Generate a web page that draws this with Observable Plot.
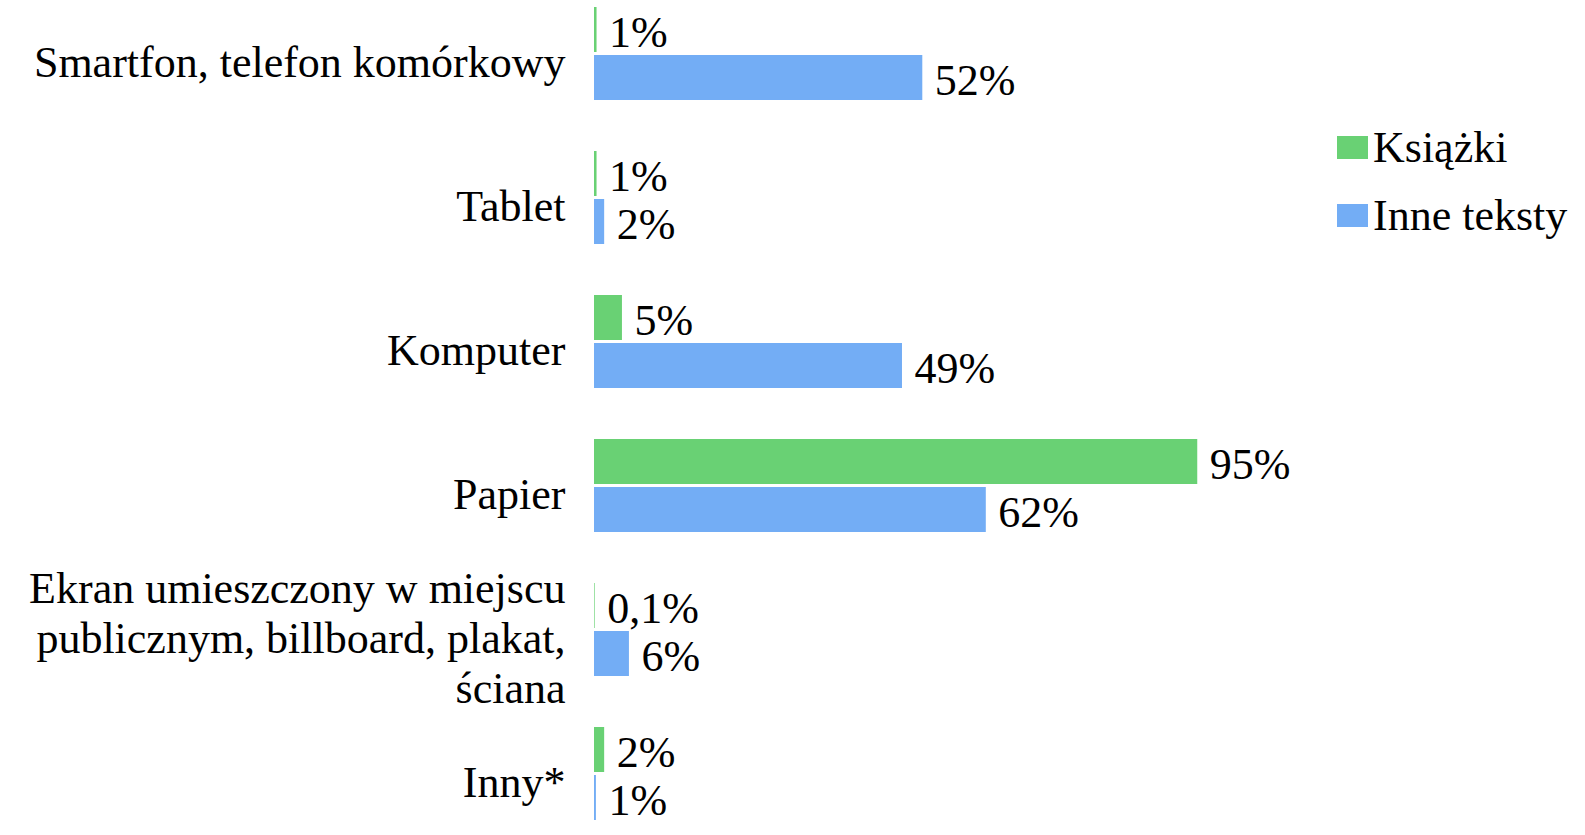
<!DOCTYPE html>
<html>
<head>
<meta charset="utf-8">
<script src="https://cdn.jsdelivr.net/npm/d3@7"></script>
<script src="https://cdn.jsdelivr.net/npm/@observablehq/plot@0.6"></script>
<style>
  html, body { margin: 0; padding: 0; background: #fff; }
  #wrap { position: relative; width: 1585px; height: 835px; overflow: hidden; }
  #legend { position: absolute; left: 1337px; top: 127px; font-family: "Liberation Serif", serif; font-size: 44px; color: #000; }
  .item { display: flex; align-items: center; height: 40px; margin-bottom: 28px; }
  .sw { width: 31px; height: 23px; margin-right: 5px; flex: none; }
</style>
</head>
<body>
<div id="wrap"><div id="legend"></div></div>
<script>
const categories = ["Smartfon", "Tablet", "Komputer", "Papier", "Ekran", "Inny"];
const categoryLabels = [
  "Smartfon, telefon komórkowy",
  "Tablet",
  "Komputer",
  "Papier",
  "Ekran umieszczony w miejscu\npublicznym, billboard, plakat,\nściana",
  "Inny*"
];
const series = ["Książki", "Inne teksty"];
const colors = ["#69D174", "#73ADF5"];
const ksiazkiValues = [0.4, 0.4, 4.4, 95, 0.1, 1.6];
const inneValues = [51.7, 1.6, 48.5, 61.7, 5.5, 0.3];
const ksiazkiLabels = ["1%", "1%", "5%", "95%", "0,1%", "2%"];
const inneLabels = ["52%", "2%", "49%", "62%", "6%", "1%"];

const data = [];
categories.forEach((c, i) => {
  data.push({category: c, series: series[0], value: ksiazkiValues[i], label: ksiazkiLabels[i]});
  data.push({category: c, series: series[1], value: inneValues[i], label: inneLabels[i]});
});

const font = "Liberation Serif";

const chart = Plot.plot({
  width: 1585,
  height: 835,
  marginLeft: 594,
  marginRight: 356,
  marginTop: 5,
  marginBottom: 12,
  style: {fontFamily: font, color: "#000", background: "transparent"},
  x: {domain: [0, 100], axis: null},
  fy: {domain: categories, paddingInner: 0.34, paddingOuter: 0, label: null},
  y: {domain: series, paddingInner: 0.0612, paddingOuter: 0, axis: null},
  color: {domain: series, range: colors},
  marks: [
    Plot.barX(data, {x: "value", y: "series", fy: "category", fill: "series"}),
    Plot.text(data, {
      x: "value", y: "series", fy: "category", text: "label",
      textAnchor: "start", dx: 12, dy: 3, fontSize: 44, fontFamily: font, fill: "#000"
    }),
    Plot.axisFy({
      anchor: "left", tickSize: 0, tickPadding: 29, label: null,
      tickFormat: c => categoryLabels[categories.indexOf(c)],
      fontSize: 44, fontFamily: font, lineHeight: 1.14, dy: 7, fill: "#000"
    })
  ]
});
document.getElementById("wrap").prepend(chart);

const legend = document.getElementById("legend");
series.forEach((s, i) => {
  const item = document.createElement("div");
  item.className = "item";
  const sw = document.createElement("span");
  sw.className = "sw";
  sw.style.background = colors[i];
  const t = document.createElement("span");
  t.textContent = s;
  item.appendChild(sw);
  item.appendChild(t);
  legend.appendChild(item);
});
</script>
</body>
</html>
